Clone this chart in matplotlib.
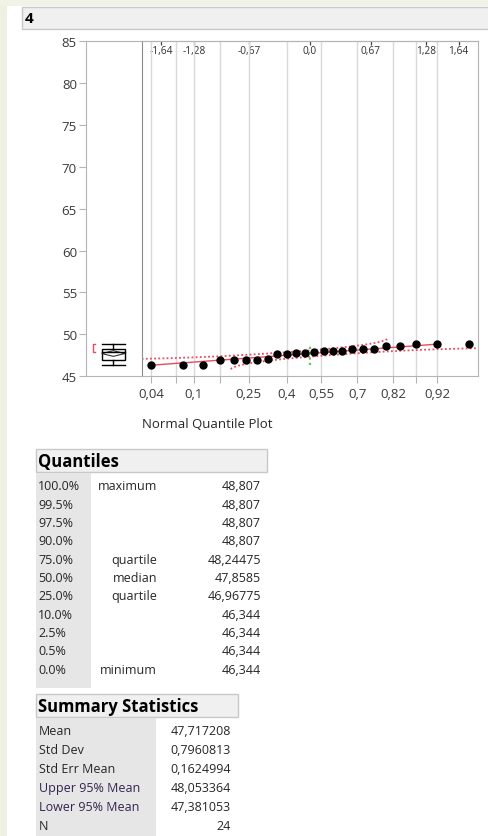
import numpy as np
import matplotlib
matplotlib.use('Agg')
import matplotlib.pyplot as plt
from matplotlib.patches import Rectangle, Polygon
from statistics import NormalDist

plt.rcParams['font.family'] = ['Open Sans', 'DejaVu Sans']

# sorted measurements of column 4
values = [46.344, 46.344, 46.344, 46.94, 46.95, 46.96, 46.991, 47.12,
          47.70, 47.71, 47.73, 47.76, 47.957, 47.98, 47.992, 48.05,
          48.20, 48.23, 48.24967, 48.60, 48.64, 48.807, 48.807, 48.807]

quantile_levels = ['100.0%', '99.5%', '97.5%', '90.0%', '75.0%', '50.0%',
                   '25.0%', '10.0%', '2.5%', '0.5%', '0.0%']
quantile_names = ['maximum', '', '', '', 'quartile', 'median', 'quartile',
                  '', '', '', 'minimum']
quantile_values = [48.807, 48.807, 48.807, 48.807, 48.24475, 47.8585,
                   46.96775, 46.344, 46.344, 46.344, 46.344]

stat_names = ['Mean', 'Std Dev', 'Std Err Mean', 'Upper 95% Mean',
              'Lower 95% Mean', 'N']
stat_values = [47.717208, 0.7960813, 0.1624994, 48.053364, 47.381053, 24]

# bottom axis ticks are probabilities, top axis ticks normal quantiles
prob_ticks = [0.04, 0.07, 0.1, 0.16, 0.25, 0.4, 0.55, 0.7, 0.82, 0.88, 0.92]
prob_labeled = [0.04, 0.1, 0.25, 0.4, 0.55, 0.7, 0.82, 0.92]
z_ticks = [-1.64, -1.28, -0.67, 0.0, 0.67, 1.28, 1.64]
y_ticks = [45, 50, 55, 60, 65, 70, 75, 80, 85]


def fmt(v):
    # decimal comma like the report
    return str(v).replace('.', ',')


W, H = 489, 837
nd = NormalDist()
text_col = '#262626'
frame_col = '#b4b4b4'
red = '#ec4a5c'

fig = plt.figure(figsize=(W / 100, H / 100), dpi=100)
fig.patch.set_facecolor('white')


def px_axes(x0, y0, x1, y1):
    return fig.add_axes([x0 / W, 1 - y1 / H, (x1 - x0) / W, (y1 - y0) / H])


# page layer for header, tables and margins
page = px_axes(0, 0, W, H)
page.set_xlim(0, W)
page.set_ylim(H, 0)
page.axis('off')
page.add_patch(Rectangle((0, 0), 7, H, fc='#eef1e2', ec='none'))
page.add_patch(Rectangle((0, 0), W, 7, fc='#f0f3e6', ec='none'))
page.add_patch(Rectangle((22, 7.5), 480, 22.5, fc='#f0f0f0', ec='#c8c8c8', lw=1))
page.text(25, 19, '4', fontsize=11, fontweight='bold', va='center', color='black')

mean, sd = stat_values[0], stat_values[1]
upper, lower = stat_values[3], stat_values[4]
n = stat_values[5]
hi, q3, med, q1, lo = (quantile_values[0], quantile_values[4], quantile_values[5],
                       quantile_values[6], quantile_values[10])

# ---- outlier box plot panel ----
bx = px_axes(86, 42, 141.7, 377.3)
bx.set_xlim(0, 1)
bx.set_ylim(45, 85)
bx.set_xticks([])
bx.set_yticks(y_ticks)
bx.tick_params(axis='y', length=5, width=0.8, color=frame_col, labelsize=9.5,
               labelcolor='#3a3a3a', pad=1.5)
for s in ['left', 'top', 'bottom']:
    bx.spines[s].set_color(frame_col)
bx.spines['right'].set_visible(False)

bl, br, bc = 0.28, 0.70, 0.49
bx.add_patch(Rectangle((bl, q1), br - bl, q3 - q1, fill=False, ec='black', lw=1))
bx.plot([bl, br], [med, med], color='black', lw=1)
bx.plot([bc, bc], [q3, hi], color='black', lw=1)
bx.plot([bc, bc], [lo, q1], color='black', lw=1)
bx.plot([bl, br], [hi, hi], color='black', lw=1)
bx.plot([bl, br], [lo, lo], color='black', lw=1)
bx.add_patch(Polygon([(bl, mean), (bc, upper), (br, mean), (bc, lower)],
                     closed=True, fill=False, ec='#333333', lw=0.8))

# shortest half bracket
k = n // 2
spans = [values[i + k - 1] - values[i] for i in range(n - k + 1)]
i0 = int(np.argmin(spans))
sh_lo, sh_hi = values[i0], values[i0 + k - 1]
bx.plot([0.165, 0.13, 0.13, 0.165], [sh_hi, sh_hi, sh_lo, sh_lo], color=red, lw=1)

# ---- normal quantile plot ----
ax = px_axes(141.7, 42, 477.7, 377.3)
zmin, zmax = -1.855, 1.85
ax.set_xlim(zmin, zmax)
ax.set_ylim(45, 85)
ax.set_yticks([])
prob_z = [nd.inv_cdf(p) for p in prob_ticks]
prob_lab = [fmt(p) if p in prob_labeled else '' for p in prob_ticks]
ax.set_xticks(prob_z, prob_lab)
ax.tick_params(axis='x', length=5, width=0.8, color=frame_col, labelsize=9.5,
               labelcolor='#3a3a3a', pad=3)
ax.grid(axis='x', color='#d9d9d9', lw=1)
ax.set_axisbelow(True)
for s in ['top', 'right', 'bottom']:
    ax.spines[s].set_color(frame_col)
ax.spines['left'].set_color('#8c8c8c')

top = ax.secondary_xaxis('top')
top.set_xticks(z_ticks, [fmt(z) for z in z_ticks])
top.tick_params(direction='in', length=3, width=0.9, color='#444444', pad=-10.5,
                labelsize=7.3, labelcolor='#303030')
top.spines['top'].set_color(frame_col)

z_pos = [nd.inv_cdf(i / (n + 1)) for i in range(1, n + 1)]

# Lilliefors confidence bands
d = 0.886 / np.sqrt(n)
pu = np.linspace(nd.cdf(zmin), 0.99 - d, 200)
ax.plot([nd.inv_cdf(p) for p in pu], [mean + sd * nd.inv_cdf(p + d) for p in pu],
        color=red, lw=1.3, ls=(0, (1.0, 1.3)))
pl = np.linspace(0.01 + d, nd.cdf(zmax), 200)
ax.plot([nd.inv_cdf(p) for p in pl], [mean + sd * nd.inv_cdf(p - d) for p in pl],
        color=red, lw=1.3, ls=(0, (1.0, 1.3)))

# fitted normal line
zl = [z_pos[0], z_pos[-2]]
ax.plot(zl, [mean + sd * z for z in zl], color=red, lw=1)

ax.plot([0, 0], [lo, hi], color='#5cc85c', lw=1.6, ls=(0, (1, 1.4)))
ax.plot(z_pos, values, 'o', color='black', ms=5, zorder=5)

page.text(207.5, 424, 'Normal Quantile Plot', fontsize=9.5, ha='center',
          va='center', color=text_col)

# ---- Quantiles table ----
page.add_patch(Rectangle((36, 450), 231, 23, fc='#f0f0f0', ec='#c8c8c8', lw=1))
page.text(38, 461.5, 'Quantiles', fontsize=12, fontweight='bold', va='center',
          color='black')
page.add_patch(Rectangle((36, 474), 55, 215, fc='#e6e6e6', ec='none'))
for i, (lev, name, val) in enumerate(zip(quantile_levels, quantile_names,
                                          quantile_values)):
    y = 486.7 + i * 18.33
    page.text(38, y, lev, fontsize=9, va='center', color=text_col)
    page.text(157, y, name, fontsize=9, va='center', ha='right', color=text_col)
    page.text(261, y, fmt(val), fontsize=9, va='center', ha='right', color=text_col)

# ---- Summary Statistics table ----
page.add_patch(Rectangle((36, 695), 202, 23, fc='#f0f0f0', ec='#c8c8c8', lw=1))
page.text(38, 706.5, 'Summary Statistics', fontsize=12, fontweight='bold',
          va='center', color='black')
page.add_patch(Rectangle((36, 719), 120, 118, fc='#e6e6e6', ec='none'))
for i, (name, val) in enumerate(zip(stat_names, stat_values)):
    y = 731.7 + i * 19
    col = '#33234f' if '95%' in name else text_col
    page.text(39, y, name, fontsize=9, va='center', color=col)
    page.text(231, y, fmt(val), fontsize=9, va='center', ha='right', color=text_col)

fig.savefig('out.png', dpi=100)
